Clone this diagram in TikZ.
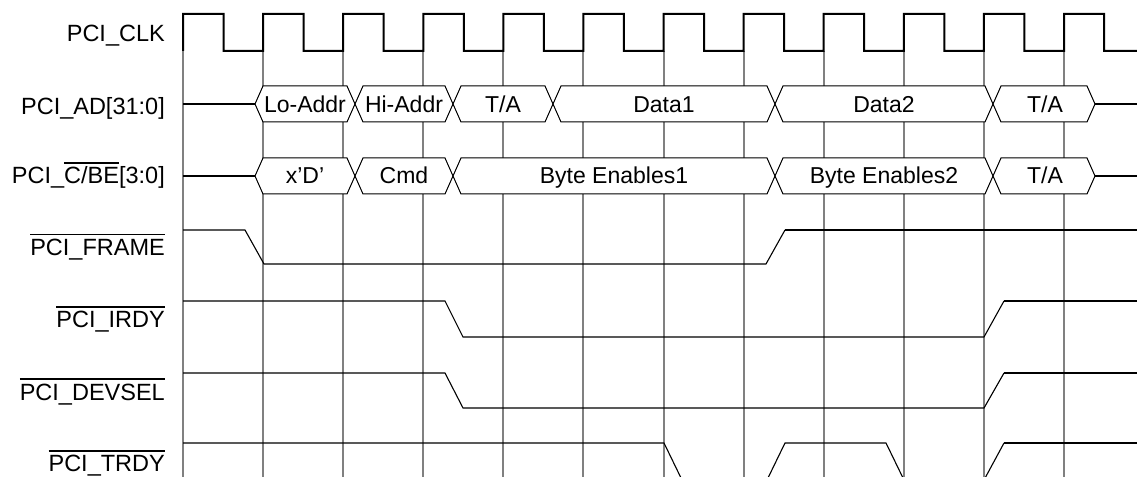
\documentclass[tikz,border=0pt]{standalone}
\usepackage{fontspec}
\setmainfont{Liberation Sans}
\newsavebox\ovbox
\newcommand\ovl[1]{\sbox\ovbox{#1}\rlap{\rule[20.2bp]{\wd\ovbox}{1.4bp}}\usebox\ovbox}
\tikzset{
  clk/.style={line width=2bp, line join=miter},
  gridline/.style={line width=2bp, draw=black!50},
  bus/.style={line width=1bp, draw=black, fill=white, line join=miter},
  lead/.style={line width=2bp},
  sig/.style={line width=1.1bp, line join=miter},
  sigthick/.style={line width=2bp},
  lbl/.style={anchor=base east, inner sep=0pt, font=\fontsize{23.5bp}{28bp}\selectfont},
  bustxt/.style={anchor=base, inner sep=0pt, font=\fontsize{23bp}{28bp}\selectfont}
}
\newcommand\busseg[4]{%
  \filldraw[bus] (#1,#3) -- ({#1+8},{#3-18}) -- ({#2-8},{#3-18}) -- (#2,#3) -- ({#2-8},{#3+18}) -- ({#1+8},{#3+18}) -- cycle;}
\begin{document}
\begin{tikzpicture}[x=1bp,y=-1bp]
\useasboundingbox (0,0) rectangle (1137,477);
\clip (0,0) rectangle (1137,477);
% grid lines
\foreach \k in {0,...,11}
  \draw[gridline] ({183+\k*80.09},51) -- ({183+\k*80.09},478);
% clock
\draw[clk] (183,51) \foreach \k in {0,...,10}{ -- ({183+\k*80.09},14) -- ({223.5+\k*80.09},14) -- ({223.5+\k*80.09},51) -- ({263.09+\k*80.09},51)} -- (1064,14) -- (1104,14) -- (1104,51) -- (1137,51);
% labels
\node[lbl] (lclk) at (165,41.7) {PCI\_CLK};
\node[lbl] (lad) at (165,115) {PCI\_AD[31:0]};
\node[lbl] (lcbe) at (165,184) {PCI\_\ovl{C/BE}[3:0]};
\node[lbl] (lframe) at (165,255.7) {\ovl{PCI\_FRAME}};
\node[lbl] (lirdy) at (165,328) {\ovl{PCI\_IRDY}};
\node[lbl] (ldevsel) at (165,400) {\ovl{PCI\_DEVSEL}};
\node[lbl] (ltrdy) at (165,471.7) {\ovl{PCI\_TRDY}};
% AD bus
\draw[lead] (183,104) -- (255,104);
\draw[lead] (1095,104) -- (1137,104);
\busseg{255}{355}{104}{}
\busseg{355}{453}{104}{}
\busseg{453}{553}{104}{}
\busseg{553}{775}{104}{}
\busseg{775}{993}{104}{}
\busseg{993}{1095}{104}{}
\node[bustxt] (ad1) at (305,113) {Lo-Addr};
\node[bustxt] (ad2) at (404,113) {Hi-Addr};
\node[bustxt] (ad3) at (503,113) {T/A};
\node[bustxt] (ad4) at (664,113) {Data1};
\node[bustxt] (ad5) at (884,113) {Data2};
\node[bustxt] (ad6) at (1045,113) {T/A};
% C/BE bus
\draw[lead] (183,176) -- (255,176);
\draw[lead] (1095,176) -- (1137,176);
\busseg{255}{355}{176}{}
\busseg{355}{453}{176}{}
\busseg{453}{775}{176}{}
\busseg{775}{993}{176}{}
\busseg{993}{1095}{176}{}
\node[bustxt] (cb1) at (305,184) {x’D’};
\node[bustxt] (cb2) at (404,184) {Cmd};
\node[bustxt] (cb3) at (614,184) {Byte Enables1};
\node[bustxt] (cb4) at (884,184) {Byte Enables2};
\node[bustxt] (cb5) at (1045,184) {T/A};
% FRAME
\draw[sig] (183,230) -- (245,230) -- (264,264) -- (766,264) -- (785,230);
\draw[sigthick] (785,230) -- (1137,230);
% IRDY
\draw[sig] (183,301) -- (445,301) -- (463,337) -- (984,337) -- (1004,301);
\draw[sigthick] (1004,301) -- (1137,301);
% DEVSEL
\draw[sig] (183,373) -- (445,373) -- (463,408) -- (984,408) -- (1004,373);
\draw[sigthick] (1004,373) -- (1137,373);
% TRDY
\draw[sig] (183,443) -- (664,443) -- (682,480) -- (767,480) -- (785,443) -- (886,443) -- (904,480) -- (984,480) -- (1004,443);
\draw[sigthick] (1004,443) -- (1137,443);
\end{tikzpicture}
\end{document}
